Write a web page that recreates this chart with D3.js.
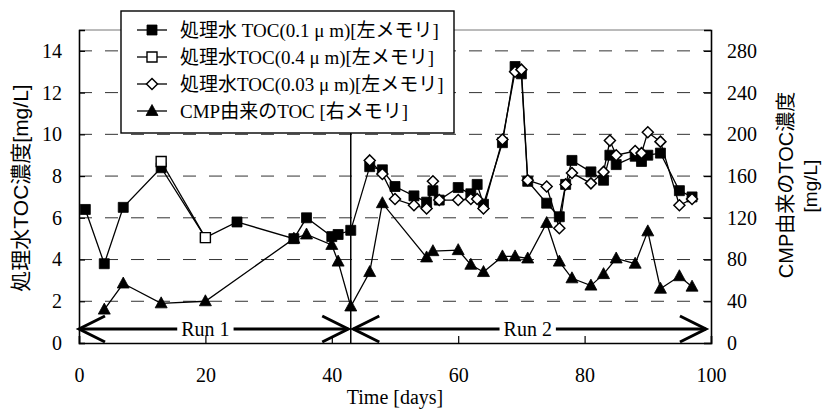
<!DOCTYPE html>
<html><head><meta charset="utf-8">
<script src="https://cdn.jsdelivr.net/npm/d3@7"></script>
<style>body{margin:0;background:#fff}</style>
</head><body>
<script>
// ---- data ----
const daysA = [1,4,7,13,20,25,34,36,40,41,43,46,48,50,53,55,56,57,60,62,63,64,67,69,70,71,74,76,77,78,81,83,84,85,88,89,90,92,95,97];
const tocA  = [6.4,3.8,6.5,8.4,5.05,5.8,5.0,6.0,5.1,5.2,5.4,8.45,8.3,7.5,7.05,6.75,7.3,6.85,7.45,7.15,7.6,6.65,9.6,13.25,12.9,7.75,6.7,6.05,7.6,8.75,8.2,7.8,9.0,8.55,8.95,8.7,9.0,9.1,7.3,7.0];
const daysB = [13,20];
const tocB  = [8.7,5.05];
const daysC = [46,48,50,53,55,56,57,60,62,63,64,67,69,70,71,74,76,77,78,81,83,84,85,88,89,90,92,95,97];
const tocC  = [8.75,8.1,6.9,6.6,6.45,7.75,6.85,6.85,6.9,6.9,6.45,9.75,13.0,13.1,7.8,7.5,5.5,7.6,8.15,7.65,8.2,9.7,9.0,9.2,9.1,10.1,9.65,6.6,6.9];
const daysD = [4,7,13,20,34,36,40,41,43,46,48,55,56,60,62,64,67,69,71,74,76,78,81,83,85,88,90,92,95,97];
const cmpD  = [32,57,38,40,100,104,94,78,35,68,134,82,88,89,75,68,83,83,81,115,78,62,55,66,81,76,107,52,64,54];
const xTicks = [0,20,40,60,80,100];
const yTicks = [0,2,4,6,8,10,12,14];
const yRTicks = [0,40,80,120,160,200,240,280];
const legendLabels = ["処理水 TOC(0.1 μ m)[左メモリ]","処理水TOC(0.4 μ m)[左メモリ]","処理水TOC(0.03 μ m)[左メモリ]","CMP由来のTOC [右メモリ]"];
const runLabels = ["Run 1","Run 2"];
const runStart = [0,43.4], runEnd = [42.6,99.2], runLabelAt = [20,71];
const splitDay = 43;

// ---- layout ----
const W=822,H=409;
const x = d3.scaleLinear().domain([0,100]).range([79,711]);
const y = d3.scaleLinear().domain([0,15]).range([343,30]);
const yR = d3.scaleLinear().domain([0,300]).range([343,30]);
const serif = "'Liberation Serif','Times New Roman','Noto Sans CJK JP',serif";
const sans = "'Liberation Sans','Noto Sans CJK JP',sans-serif";

const svg = d3.select("body").append("svg").attr("width",W).attr("height",H);

// grid
svg.append("g").selectAll("line").data(yTicks.filter(v=>v>0)).join("line")
  .attr("x1",x(0)).attr("x2",x(100)).attr("y1",d=>y(d)).attr("y2",d=>y(d))
  .attr("stroke","#333").attr("stroke-width",1).attr("stroke-dasharray","13,13");
// top border
svg.append("line").attr("x1",x(0)).attr("x2",x(100)).attr("y1",y(15)).attr("y2",y(15))
  .attr("stroke","#777").attr("stroke-width",1);

// axes
const gL = svg.append("g").attr("transform",`translate(${x(0)},0)`)
  .call(d3.axisLeft(y).tickValues(yTicks).tickSize(-6).tickPadding(17).tickFormat(d3.format("d")));
const gB = svg.append("g").attr("transform",`translate(0,${y(0)})`)
  .call(d3.axisBottom(x).tickValues(xTicks).tickSize(-7).tickPadding(25).tickFormat(d3.format("d")));
const gR = svg.append("g").attr("transform",`translate(${x(100)},0)`)
  .call(d3.axisRight(yR).tickValues(yRTicks).tickSize(-7).tickPadding(16).tickFormat(d3.format("d")));
[gL,gB,gR].forEach(g=>{
  g.selectAll("text").attr("font-family",serif).attr("font-size",20).attr("fill","#000");
  g.selectAll("line").attr("stroke","#000").attr("stroke-width",1.2);
  g.select(".domain").attr("stroke","#000").attr("stroke-width",1.6);
});

// axis titles
svg.append("text").attr("transform","translate(20,188) rotate(-90)")
  .attr("text-anchor","middle").attr("dominant-baseline","central")
  .attr("font-family",sans).attr("font-size",21).text("処理水TOC濃度[mg/L]");
svg.append("text").attr("transform","translate(786,185) rotate(-90)")
  .attr("text-anchor","middle").attr("dominant-baseline","central")
  .attr("font-family",sans).attr("font-size",20).text("CMP由来のTOC濃度");
svg.append("text").attr("transform","translate(810,186) rotate(-90)")
  .attr("text-anchor","middle").attr("dominant-baseline","central")
  .attr("font-family",sans).attr("font-size",19).text("[mg/L]");
svg.append("text").attr("x",(x(0)+x(100))/2).attr("y",404).attr("text-anchor","middle")
  .attr("font-family",serif).attr("font-size",20).text("Time [days]");

// split line
svg.append("line").attr("x1",x(splitDay)).attr("x2",x(splitDay)).attr("y1",y(0)).attr("y2",133)
  .attr("stroke","#000").attr("stroke-width",1.5);

// run arrows
const ay = 329;
runLabels.forEach((lab,i)=>{
  const x0=x(runStart[i]), x1=x(runEnd[i]), cx=x(runLabelAt[i]);
  const t = svg.append("text").attr("x",cx).attr("y",ay+7).attr("text-anchor","middle")
    .attr("font-family",serif).attr("font-size",20).text(lab);
  const bb = t.node().getBBox();
  svg.append("path").attr("d",`M${x0},${ay}H${bb.x-4}M${bb.x+bb.width+4},${ay}H${x1}`)
    .attr("stroke","#000").attr("stroke-width",3).attr("fill","none");
  svg.append("path").attr("d",`M${x0+26},${ay-13}L${x0},${ay}L${x0+26},${ay+13}M${x1-26},${ay-13}L${x1},${ay}L${x1-26},${ay+13}`)
    .attr("stroke","#000").attr("stroke-width",3).attr("fill","none");
});

// series
const line = d3.line();
const mk = (ds,vs,sc)=>ds.map((d,i)=>[x(d),sc(vs[i])]);
const sA = mk(daysA,tocA,y), sB = mk(daysB,tocB,y), sC = mk(daysC,tocC,y), sD = mk(daysD,cmpD,yR);
const sqPath = "M-5,-5H5V5H-5Z";
const diPath = "M0,-5.5L5.5,0L0,5.5L-5.5,0Z";
const trPath = "M0,-6.5L6,4.5H-6Z";
function drawSeries(pts, path, fill, sw){
  svg.append("path").attr("d",line(pts)).attr("fill","none").attr("stroke","#000").attr("stroke-width",1.3);
  svg.append("g").selectAll("path").data(pts).join("path")
    .attr("transform",d=>`translate(${d[0]},${d[1]})`).attr("d",path)
    .attr("fill",fill).attr("stroke","#000").attr("stroke-width",sw);
}
drawSeries(sD, trPath, "#000", 0.8);
drawSeries(sA, sqPath, "#000", 0.8);
drawSeries(sB, sqPath, "#fff", 1.4);
drawSeries(sC, diPath, "#fff", 1.5);

// legend
const lg = svg.append("g");
lg.append("rect").attr("x",121).attr("y",11).attr("width",333).attr("height",122)
  .attr("fill","#fff").attr("stroke","#000").attr("stroke-width",1.4);
const legMarks = [[sqPath,"#000",0.8],[sqPath,"#fff",1.4],[diPath,"#fff",1.5],[trPath,"#000",0.8]];
legendLabels.forEach((lab,i)=>{
  const ry = 30 + i*27;
  lg.append("line").attr("x1",137).attr("x2",167).attr("y1",ry).attr("y2",ry).attr("stroke","#000").attr("stroke-width",1.3);
  lg.append("path").attr("transform",`translate(152,${ry})`).attr("d",legMarks[i][0])
    .attr("fill",legMarks[i][1]).attr("stroke","#000").attr("stroke-width",legMarks[i][2]);
  lg.append("text").attr("x",180).attr("y",ry).attr("dominant-baseline","central")
    .attr("font-family",serif).attr("font-size",19).text(lab);
});
</script>
</body></html>
